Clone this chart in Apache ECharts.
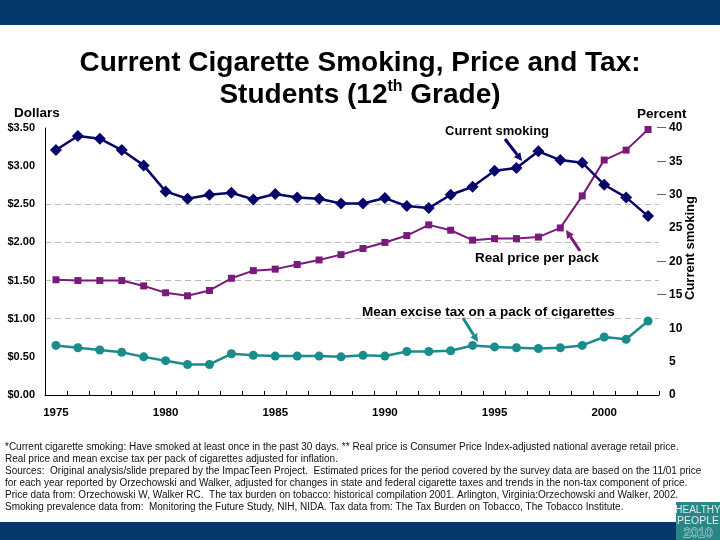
<!DOCTYPE html>
<html>
<head>
<meta charset="utf-8">
<script src="https://cdn.jsdelivr.net/npm/echarts@6/dist/echarts.min.js"></script>
<style>html,body{margin:0;padding:0;background:#fff;}#c{width:720px;height:540px;}</style>
</head>
<body>
<div id="c"></div>
<script>
const years = ['1975','1976','1977','1978','1979','1980','1981','1982','1983','1984','1985','1986','1987','1988','1989','1990','1991','1992','1993','1994','1995','1996','1997','1998','1999','2000','2001','2002'];
const smoking = [36.7,38.8,38.4,36.7,34.4,30.5,29.4,30.0,30.3,29.3,30.1,29.6,29.4,28.7,28.7,29.5,28.3,28.0,30.0,31.2,33.6,34.0,36.5,35.2,34.8,31.5,29.6,26.8];
const price = [1.51,1.50,1.50,1.50,1.43,1.34,1.30,1.37,1.53,1.63,1.65,1.71,1.77,1.84,1.92,2.00,2.09,2.23,2.16,2.03,2.05,2.05,2.07,2.19,2.61,3.08,3.21,3.48];
const tax = [0.65,0.62,0.59,0.56,0.50,0.45,0.40,0.40,0.54,0.52,0.51,0.51,0.51,0.50,0.52,0.51,0.57,0.57,0.58,0.65,0.63,0.62,0.61,0.62,0.65,0.76,0.73,0.97];
const xLabelYears = ['1975','1980','1985','1990','1995','2000'];
const dollarGridLines = [1.0,1.5,2.0,2.5];
const percentTicksWithDash = [15,20,30,35,40];
const footnotes = [
  '*Current cigarette smoking: Have smoked at least once in the past 30 days. ** Real price is Consumer Price Index-adjusted national average retail price.',
  'Real price and mean excise tax per pack of cigarettes adjusted for inflation.',
  'Sources:  Original analysis/slide prepared by the ImpacTeen Project.  Estimated prices for the period covered by the survey data are based on the 11/01 price',
  'for each year reported by Orzechowski and Walker, adjusted for changes in state and federal cigarette taxes and trends in the non-tax component of price.',
  'Price data from: Orzechowski W, Walker RC.  The tax burden on tobacco: historical compilation 2001. Arlington, Virginia:Orzechowski and Walker, 2002.',
  'Smoking prevalence data from:  Monitoring the Future Study, NIH, NIDA. Tax data from: The Tax Burden on Tobacco, The Tobacco Institute.'
];

const F = 'Liberation Sans, Arial, sans-serif';
const NAVY = '#05056a', PURPLE = '#7a1a7a', TEAL = '#1a8c8c', BAR = '#05386b';

function arrow(x1,y1,x2,y2,color){
  const a = Math.atan2(y2-y1,x2-x1), L = 8, W = 4;
  const bx = x2 - L*Math.cos(a), by = y2 - L*Math.sin(a);
  return [
    {type:'line', shape:{x1:x1,y1:y1,x2:bx,y2:by}, style:{stroke:color,lineWidth:3}, z:50},
    {type:'polygon', shape:{points:[[x2,y2],[bx+W*Math.sin(a),by-W*Math.cos(a)],[bx-W*Math.sin(a),by+W*Math.cos(a)]]}, style:{fill:color}, z:50}
  ];
}

const graphics = [
  {type:'rect', shape:{x:0,y:0,width:720,height:25}, style:{fill:BAR}},
  {type:'rect', shape:{x:0,y:522,width:720,height:18}, style:{fill:BAR}},
  {type:'text', x:14, y:113, style:{text:'Dollars', font:'bold 13.5px '+F, fill:'#000', verticalAlign:'middle'}},
  {type:'text', x:637, y:114, style:{text:'Percent', font:'bold 13.5px '+F, fill:'#000', verticalAlign:'middle'}},
  {type:'text', x:690, y:248, rotation:Math.PI/2, style:{text:'Current smoking', font:'bold 13px '+F, fill:'#000', align:'center', verticalAlign:'middle'}},
  {type:'text', x:445, y:131, style:{text:'Current smoking', font:'bold 13px '+F, fill:'#000', verticalAlign:'middle'}},
  {type:'text', x:475, y:258, style:{text:'Real price per pack', font:'bold 13.5px '+F, fill:'#000', verticalAlign:'middle'}},
  {type:'text', x:362, y:312, style:{text:'Mean excise tax on a pack of cigarettes', font:'bold 13.5px '+F, fill:'#000', verticalAlign:'middle'}},
  ...arrow(505,139,522,161,NAVY),
  ...arrow(580,251,566,230,PURPLE),
  ...arrow(463,318,478,342,TEAL),
  {type:'rect', shape:{x:676,y:502,width:44,height:38}, style:{fill:'#2a8585'}, z:60},
  {type:'text', x:698, y:510, style:{text:'HEALTHY', font:'10px '+F, fill:'#d8eef0', align:'center', verticalAlign:'middle'}, z:61},
  {type:'text', x:698, y:521, style:{text:'PEOPLE', font:'10.5px '+F, fill:'#d8eef0', align:'center', verticalAlign:'middle'}, z:61},
  {type:'text', x:698, y:533, style:{text:'2010', font:'13px '+F, fill:'#2a8585', stroke:'#d8eef0', lineWidth:0.8, align:'center', verticalAlign:'middle'}, z:61}
];
footnotes.forEach((t,i)=>{
  graphics.push({type:'text', x:5, y:447+12*i, style:{text:t, font:'10px '+F, fill:'#111', verticalAlign:'middle'}});
});

const chart = echarts.init(document.getElementById('c'), null, {renderer:'canvas'});
chart.setOption({
  animation:false,
  backgroundColor:'#fff',
  title:{
    text:'Current Cigarette Smoking, Price and Tax:\nStudents (12{sup|th} Grade)',
    left:'center', top:42,
    textStyle:{fontFamily:F, fontSize:28, fontWeight:'bold', color:'#000', lineHeight:32,
      rich:{sup:{fontFamily:F, fontSize:16, fontWeight:'bold', color:'#000', verticalAlign:'top', lineHeight:22}}}
  },
  grid:{left:45, right:61, top:128, bottom:145, containLabel:false},
  xAxis:{
    type:'category', data:years, boundaryGap:true,
    axisLine:{show:true, lineStyle:{color:'#000', width:1}},
    axisTick:{show:true, inside:true, length:4, interval:0, lineStyle:{color:'#000'}},
    axisLabel:{interval:0, margin:12, fontFamily:F, fontSize:11.5, fontWeight:'bold', color:'#000',
      formatter:v=> xLabelYears.includes(v) ? v : ''},
    splitLine:{show:false}
  },
  yAxis:[
    {type:'value', min:0, max:3.5, interval:0.5, position:'left',
      axisLine:{show:true, lineStyle:{color:'#000', width:1}},
      axisTick:{show:false},
      splitLine:{show:false},
      axisLabel:{margin:10, fontFamily:F, fontSize:11, fontWeight:'bold', color:'#000', formatter:v=>'$'+v.toFixed(2)}},
    {type:'value', min:0, max:40, interval:5, position:'right',
      axisLine:{show:false}, axisTick:{show:false}, splitLine:{show:false},
      axisLabel:{margin:-2, color:'#000',
        formatter:v=> (percentTicksWithDash.includes(v) ? '{d|—}' : '{e|}') + '{n|'+v+'}',
        rich:{d:{width:12, fontFamily:F, fontSize:9, color:'#000'}, e:{width:12}, n:{fontFamily:F, fontSize:12, fontWeight:'bold', color:'#000'}}}}
  ],
  series:[
    {name:'Real price per pack', type:'line', yAxisIndex:0, data:price,
      symbol:'rect', symbolSize:7, lineStyle:{color:PURPLE, width:2}, itemStyle:{color:PURPLE},
      markLine:{silent:true, symbol:'none', label:{show:false},
        lineStyle:{color:'#bbbbbb', type:[6,4], width:1},
        data: dollarGridLines.map(v=>({yAxis:v})), z:0}},
    {name:'Mean excise tax', type:'line', yAxisIndex:0, data:tax,
      symbol:'circle', symbolSize:9, lineStyle:{color:TEAL, width:2.5}, itemStyle:{color:TEAL}},
    {name:'Current smoking', type:'line', yAxisIndex:1, data:smoking,
      symbol:'diamond', symbolSize:12, lineStyle:{color:NAVY, width:2.5}, itemStyle:{color:NAVY}}
  ],
  graphic:graphics
});
</script>
</body>
</html>
